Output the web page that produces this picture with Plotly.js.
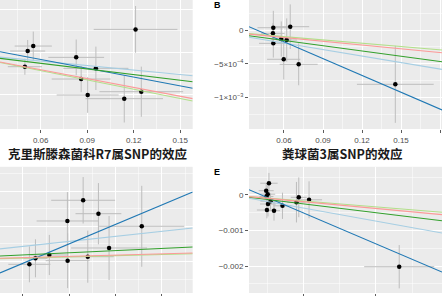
<!DOCTYPE html>
<html><head><meta charset="utf-8">
<script src="https://cdn.plot.ly/plotly-3.0.1.min.js"></script>
<style>html,body{margin:0;padding:0;background:#fff;overflow:hidden}#chart{width:442px;height:296px}</style>
</head><body><div id="chart"></div><script>
// MR methods and colours (legend order)
const methods = ['Inverse variance weighted','MR Egger','Simple mode','Weighted median','Weighted mode'];
const methodColors = ['#a6cee3','#1f78b4','#b2df8a','#33a02c','#fb9a99'];

// Panel A: 克里斯滕森菌科R7属
const aSnpExp = [0.0516,0.0552,0.0498,0.0829,0.0956,0.0861,0.0903,0.1212,0.1139,0.1249];
const aSnpOut = [0.00024,0.00141,-0.00345,-0.00125,-0.00383,-0.00635,-0.0101,0.00533,-0.01097,-0.00933];
const aSeExp  = [0.0113,0.012,0.011,0.018,0.021,0.019,0.020,0.027,0.025,0.027];
const aSeOut  = [0.0026,0.0034,0.0019,0.0042,0.0051,0.0031,0.0042,0.0055,0.0056,0.0059];
const aSlopes = [-0.0353,-0.0691,-0.0729,-0.0442,-0.0693];
const aEggerIntercept = 0.0024;

// Panel B: 粪球菌3属
const bSnpExp = [0.0518,0.0648,0.0515,0.0579,0.0621,0.0518,0.0598,0.0713,0.1456];
const bSnpOut = [0.000034,0.000049,-0.000049,-0.000133,-0.000148,-0.000197,-0.000433,-0.000507,-0.000803];
const bSeExp  = [0.0122,0.0146,0.009,0.008,0.008,0.011,0.0128,0.0146,0.0295];
const bSeOut  = [0.00025,0.00033,0.00015,0.00026,0.00032,0.00021,0.0003,0.00031,0.00057];
const bSlopes = [-0.00321,-0.0083,-0.00163,-0.00258,-0.00185];
const bEggerIntercept = 0.000324;
const bTickVals = [0,-0.0005,-0.001];
const bTickText = ['0','\u22125\u00d710<sup>\u22124</sup>','\u22121\u00d710<sup>\u22123</sup>'];

// Panel C
const cSnpExp = [0.0860,0.0926,0.0792,0.1113,0.0972,0.0714,0.0880,0.0654,0.0793,0.0628];
const cSnpOut = [0.01739,0.01358,0.01151,0.0100,0.00384,0.00185,0.00136,0.00091,0.00023,-0.0008];
const cSeExp  = [0.0138,0.0099,0.0133,0.0184,0.0164,0.0082,0.0112,0.0052,0.0095,0.0091];
const cSeOut  = [0.0066,0.0087,0.0082,0.0115,0.0091,0.0057,0.0074,0.0054,0.0078,0.0051];
const cSlopes = [0.0714,0.2765,0.0165,0.0309,0.0181];
const cEggerIntercept = -0.0171;

// Panel E
const eSnpExp = [0.0523,0.0485,0.0506,0.0488,0.0545,0.0510,0.0710,0.0495,0.0593,0.0903,0.0935,0.1077,0.2322];
const eSnpOut = [0.000332,0.000121,0.0000225,-0.0000423,-0.000175,-0.000254,-0.000304,-0.000423,-0.000442,-0.000203,-0.0000648,-0.000135,-0.00202];
const eSeExp  = [0.012,0.0104,0.0104,0.0097,0.014,0.011,0.0125,0.0138,0.0083,0.0127,0.011,0.018,0.0484];
const eSeOut  = [0.00029,0.00021,0.00025,0.000225,0.000225,0.00035,0.00037,0.000235,0.00028,0.00057,0.00056,0.00052,0.00061];
const eSlopes = [-0.00367,-0.0087,-0.00167,-0.00249,-0.0019];
const eEggerIntercept = 0.000364;

const titleA = '克里斯滕森菌科R7属SNP的效应';
const titleB = '粪球菌3属SNP的效应';

const W = 442, H = 296;
const panels = [
  {key:'', ex:aSnpExp, ey:aSnpOut, sx:aSeExp, sy:aSeOut, slopes:aSlopes, icpt:aEggerIntercept,
   dom:{x:[0,192.7/W], y:[1-129/H,1]}, xr:[0.03374,0.15806], yr:[-0.0181,0.01224], xd:0.03, yd:0.01, xlab:true, ylab:false},
  {key:'2', ex:bSnpExp, ey:bSnpOut, sx:bSeExp, sy:bSeOut, slopes:bSlopes, icpt:bEggerIntercept,
   dom:{x:[249/W,1], y:[1-129/H,1]}, xr:[0.0331,0.1815], yr:[-0.001464,0.000444], xd:0.03, yd:0.0005, xlab:true, ylab:true, yvals:bTickVals, ytext:bTickText},
  {key:'3', ex:cSnpExp, ey:cSnpOut, sx:cSeExp, sy:cSeOut, slopes:cSlopes, icpt:cEggerIntercept,
   dom:{x:[0,192.7/W], y:[1-293/H,1-166.8/H]}, xr:[0.0501,0.1333], yr:[-0.00895,0.0269], xd:0.02, yd:0.01, xlab:false, ylab:false},
  {key:'4', ex:eSnpExp, ey:eSnpOut, sx:eSeExp, sy:eSeOut, slopes:eSlopes, icpt:eEggerIntercept,
   dom:{x:[249/W,1], y:[1-293/H,1-166.8/H]}, xr:[0.02476,0.2913], yr:[-0.00276,0.000794], xd:0.1, yd:0.001, xlab:false, ylab:true}
];

const traces = [];
const layout = {
  width:W, height:H, margin:{l:0,r:0,t:0,b:0}, showlegend:false,
  paper_bgcolor:'#ffffff', plot_bgcolor:'#ebebeb',
  font:{family:'Liberation Sans, Arial, sans-serif', size:8, color:'#4d4d4d'},
  annotations:[]
};

panels.forEach(p => {
  const xa = 'x'+p.key, ya = 'y'+p.key;
  traces.push({
    type:'scatter', mode:'markers', x:p.ex, y:p.ey, xaxis:xa, yaxis:ya,
    marker:{color:'#000', size:4.5},
    error_x:{type:'data', array:p.sx, color:'#bdbdbd', thickness:1, width:0},
    error_y:{type:'data', array:p.sy, color:'#bdbdbd', thickness:1, width:0},
    hoverinfo:'skip'
  });
  methods.forEach((m,i) => {
    const b0 = (m === 'MR Egger') ? p.icpt : 0;
    const xs = p.xr.slice();
    traces.push({
      type:'scatter', mode:'lines', name:m, x:xs, y:xs.map(v => b0 + p.slopes[i]*v),
      xaxis:xa, yaxis:ya, line:{color:methodColors[i], width:1.1}, hoverinfo:'skip'
    });
  });
  const common = {showgrid:true, gridcolor:'#ffffff', gridwidth:1, zeroline:false, showline:false,
    ticks:'outside', ticklen:3, tickwidth:0.8, tickcolor:'#333333',
    tickfont:{family:'Liberation Sans, Arial, sans-serif', size:8, color:'#4d4d4d'}};
  layout['xaxis'+p.key] = Object.assign({}, common, {
    domain:p.dom.x, range:p.xr, anchor:ya, tickmode:'linear', tick0:0, dtick:p.xd,
    showticklabels:p.xlab, minor:{showgrid:true, gridcolor:'#ffffff', gridwidth:0.5, tick0:0, dtick:p.xd/2}
  });
  const yax = Object.assign({}, common, {
    domain:p.dom.y, range:p.yr, anchor:xa, showticklabels:p.ylab,
    minor:{showgrid:true, gridcolor:'#ffffff', gridwidth:0.5, tick0:0, dtick:p.yd/2}
  });
  if (p.yvals) { yax.tickmode='array'; yax.tickvals=p.yvals; yax.ticktext=p.ytext; }
  else { yax.tickmode='linear'; yax.tick0=0; yax.dtick=p.yd; }
  if (!p.ylab) yax.ticks = '';
  layout['yaxis'+p.key] = yax;
});

const titleFont = {family:'Noto Sans CJK SC, sans-serif', size:12.5, color:'#1a1a1a', weight:'bold'};
layout.annotations.push(
  {text:titleA, xref:'paper', yref:'paper', x:97/W, y:1-153/H, xanchor:'center', yanchor:'middle', showarrow:false, font:titleFont},
  {text:titleB, xref:'paper', yref:'paper', x:342/W, y:1-153/H, xanchor:'center', yanchor:'middle', showarrow:false, font:titleFont},
  {text:'B', xref:'paper', yref:'paper', x:212/W, y:1-5.5/H, xanchor:'left', yanchor:'middle', showarrow:false,
   font:{family:'Liberation Sans, Arial, sans-serif', size:9, color:'#000', weight:'bold'}},
  {text:'E', xref:'paper', yref:'paper', x:212/W, y:1-171.5/H, xanchor:'left', yanchor:'middle', showarrow:false,
   font:{family:'Liberation Sans, Arial, sans-serif', size:9, color:'#000', weight:'bold'}}
);

Plotly.newPlot('chart', traces, layout, {staticPlot:true, displayModeBar:false});
</script></body></html>
